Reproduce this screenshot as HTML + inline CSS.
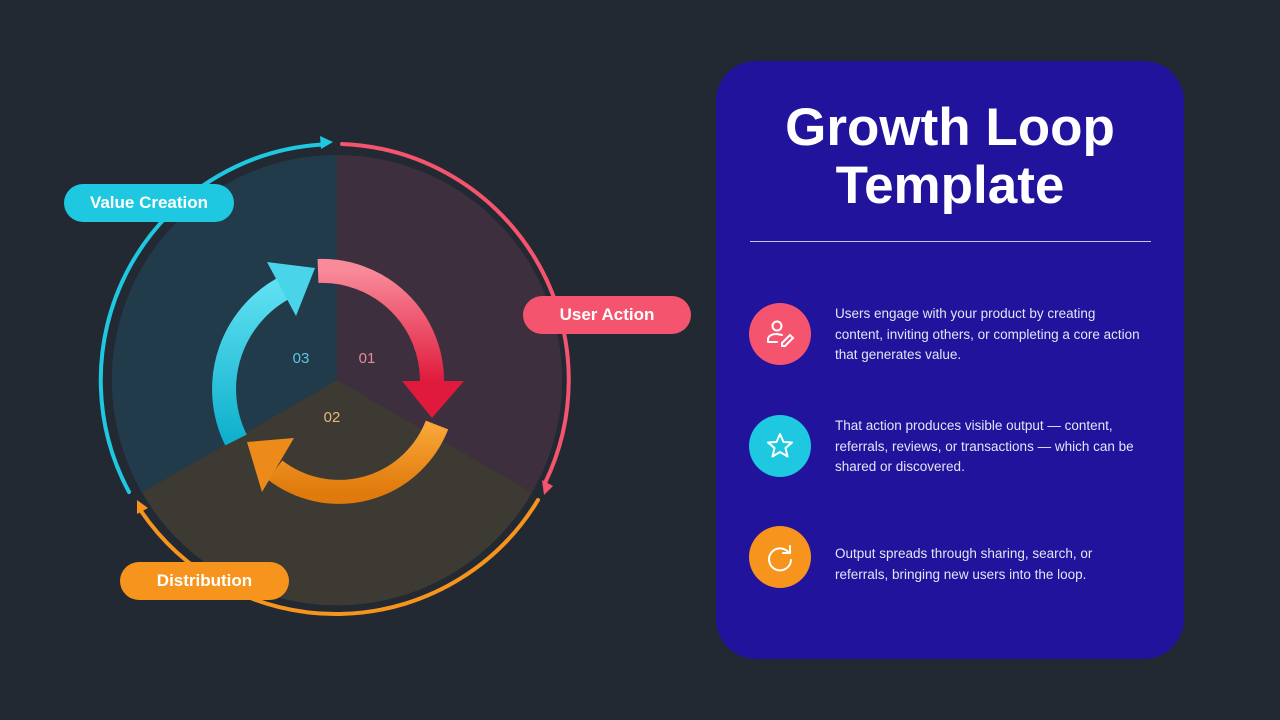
<!DOCTYPE html>
<html><head><meta charset="utf-8"><style>
body{margin:0;width:1280px;height:720px;background:#232933;overflow:hidden;font-family:"Liberation Sans",sans-serif;position:relative}
.pill{position:absolute;height:38px;border-radius:19px;color:#fff;font-weight:bold;font-size:17px;line-height:38px;text-align:center}
.panel{position:absolute;left:716px;top:61px;width:468px;height:598px;border-radius:40px;background:#21139c}
.title{position:absolute;left:0;width:468px;top:38px;text-align:center;color:#fff;font-weight:bold;font-size:53px;line-height:58px}
.rule{position:absolute;left:34px;top:180px;width:401px;height:1px;background:#c9c4ec}
.ic{position:absolute;left:33px;width:62px;height:62px;border-radius:50%}
.tx{position:absolute;left:119px;color:#e6e4f5;font-size:13.5px;line-height:20.5px;width:305px}
</style></head><body>
<svg width="1280" height="720" style="position:absolute;left:0;top:0">
<path d="M337,380 L337,155 A225,225 0 0 1 532,492.5 Z" fill="#3d2f3e"/>
<path d="M337,380 L532,492.5 A225,225 0 0 1 142,492.5 Z" fill="#3d3a34"/>
<path d="M337,380 L142,492.5 A225,225 0 0 1 337,155 Z" fill="#213b4b"/>
<g fill="none" stroke-width="4" stroke-linecap="round">
<path d="M129,492 A236,236 0 0 1 322,144.5" stroke="#1ec8e1"/>
<path d="M342,144 A236,236 0 0 1 545,483" stroke="#f5546e"/>
<path d="M538,500 A236,236 0 0 1 141,511" stroke="#f7941d"/>
</g>
<polygon points="333,142 320,136 321,149" fill="#1ec8e1"/>
<polygon points="544,495 542,480 553,486" fill="#f5546e"/>
<polygon points="137,500 137,514 148,508" fill="#f7941d"/>
<defs>
<linearGradient id="gp" x1="0" y1="0" x2="0" y2="1"><stop offset="0" stop-color="#f98a9a"/><stop offset="1" stop-color="#e01a3c"/></linearGradient>
<linearGradient id="go" x1="0" y1="0" x2="0" y2="1"><stop offset="0" stop-color="#f9a638"/><stop offset="1" stop-color="#e07a0c"/></linearGradient>
<linearGradient id="gc" x1="0" y1="0" x2="0" y2="1"><stop offset="0" stop-color="#5fe0f2"/><stop offset="1" stop-color="#0fb0cc"/></linearGradient>
</defs>
<g fill="none" stroke-width="24">
<path d="M318,271 A110,110 0 0 1 432,382" stroke="url(#gp)"/>
<path d="M437,425 A105,105 0 0 1 275,470" stroke="url(#go)"/>
<path d="M236,440 A115,115 0 0 1 290,285" stroke="url(#gc)"/>
</g>
<polygon points="402,381 464,381 432,418" fill="#e01a3c"/>
<polygon points="247,442 294,438 262,492" fill="#ec8a1a"/>
<polygon points="267,262 315,268 296,316" fill="#49d4ea"/>
<g font-size="15" text-anchor="middle">
<text x="367" y="363" fill="#e78a99">01</text>
<text x="332" y="422" fill="#e5b877">02</text>
<text x="301" y="363" fill="#5cc8dc">03</text>
</g>
</svg>
<div class="pill" style="left:64px;top:184px;width:170px;background:#1ec8e1">Value Creation</div>
<div class="pill" style="left:523px;top:296px;width:168px;background:#f5546e">User Action</div>
<div class="pill" style="left:120px;top:562px;width:169px;background:#f7941d">Distribution</div>
<div class="panel">
<div class="title">Growth Loop<br>Template</div>
<div class="rule"></div>
<div class="ic" style="top:242px;background:#f5546e"><svg width="62" height="62" fill="none" stroke="#fff" stroke-width="2" stroke-linecap="round"><circle cx="28" cy="23" r="4.5"/><path d="M19,39 L19,36 Q20,31 28,31 L33,32 M19,39 L28,39"/><path d="M33,40 L41,32 L44,35 L36,43 L33,43 Z"/></svg></div>
<div class="ic" style="top:354px;background:#1ec8e1"><svg width="62" height="62"><polygon points="31,19 34.5,27 43,27.5 36.5,33 38.5,41.5 31,37 23.5,41.5 25.5,33 19,27.5 27.5,27" fill="none" stroke="#fff" stroke-width="2" stroke-linejoin="round"/></svg></div>
<div class="ic" style="top:465px;background:#f7941d"><svg width="62" height="62" fill="none" stroke="#fff" stroke-width="2" stroke-linecap="round"><path d="M40,27 A11,11 0 1 0 42,34"/><path d="M41,20 L41,27 L34,27"/></svg></div>
<div class="tx" style="top:243px">Users engage with your product by creating content, inviting others, or completing a core action that generates value.</div>
<div class="tx" style="top:355px">That action produces visible output — content, referrals, reviews, or transactions — which can be shared or discovered.</div>
<div class="tx" style="top:483px">Output spreads through sharing, search, or referrals, bringing new users into the loop.</div>
</div>
</body></html>
